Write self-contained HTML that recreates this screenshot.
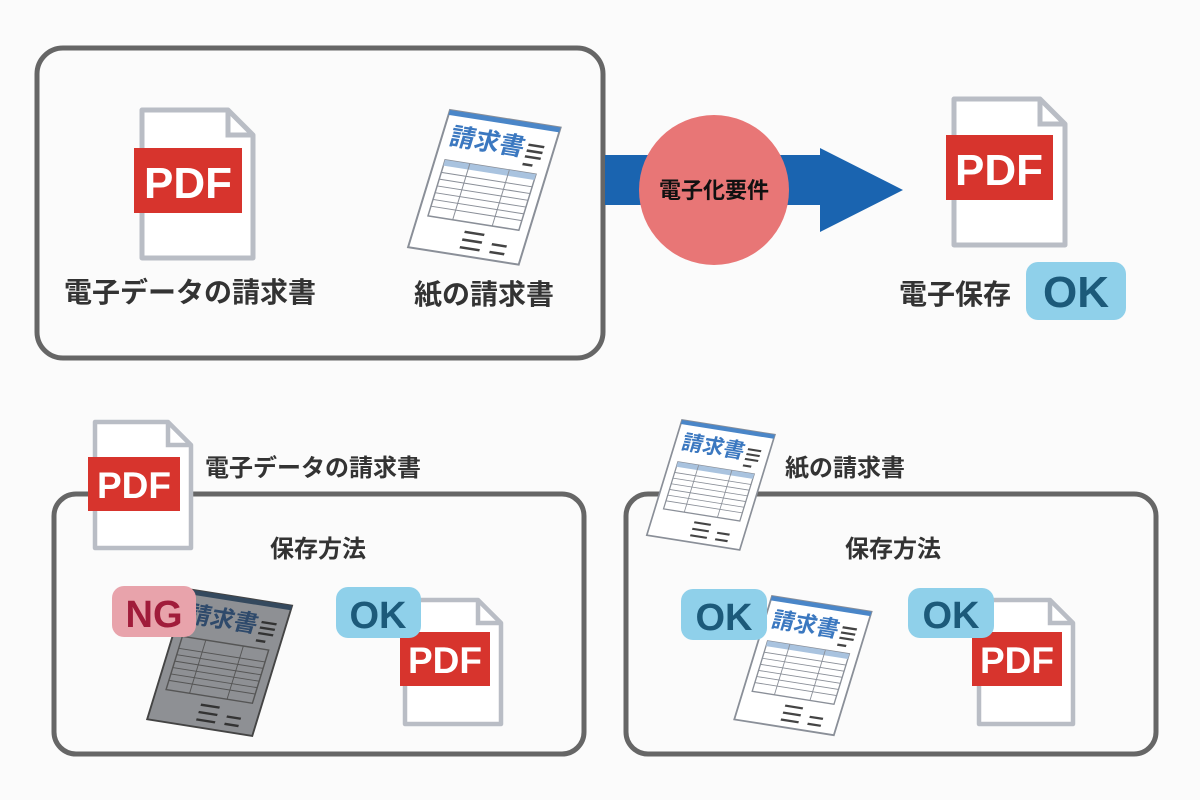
<!DOCTYPE html>
<html><head><meta charset="utf-8"><style>
html,body{margin:0;padding:0;background:#fbfbfb;}
svg{display:block;font-family:"Liberation Sans","Noto Sans CJK JP",sans-serif;}
</style></head><body>
<svg width="1200" height="800" viewBox="0 0 1200 800">
<rect width="1200" height="800" fill="#fbfbfb"/>
<rect x="37" y="48" width="566" height="310" rx="26" fill="none" stroke="#666" stroke-width="5"/>
<rect x="54" y="494" width="530" height="260" rx="22" fill="none" stroke="#666" stroke-width="5"/>
<rect x="626" y="494" width="530" height="260" rx="22" fill="none" stroke="#666" stroke-width="5"/>

<g>
<path d="M142 110 H228 L253 135 V258 H142 Z" fill="#fff" stroke="#b9bdc5" stroke-width="5" stroke-linejoin="round"/>
<path d="M228 110 V135 H253" fill="none" stroke="#b9bdc5" stroke-width="5"/>
<rect x="134" y="148" width="108" height="65" fill="#d7342d"/>
<text x="188" y="198" font-size="44" font-weight="bold" fill="#fff" text-anchor="middle">PDF</text>
</g>
<text x="190" y="302" font-size="28" font-weight="bold" fill="#333" text-anchor="middle">電子データの請求書</text>

<g transform="translate(450,110) rotate(9) skewX(-8)">
<rect x="0" y="0" width="112" height="142" fill="#fff" stroke="#8a8f98" stroke-width="2"/>
<rect x="0" y="0" width="112" height="5" fill="#4a86c8"/>
<text x="8" y="34" font-size="25" font-weight="bold" fill="#3b78c0">請求書</text>
<g stroke="#444" stroke-width="2.5"><line x1="86" y1="22" x2="102" y2="22"/><line x1="86" y1="28" x2="102" y2="28"/><line x1="86" y1="34" x2="102" y2="34"/><line x1="86" y1="42" x2="96" y2="42"/></g>
<rect x="10" y="50" width="92" height="58" fill="#fff" stroke="#8a8f98" stroke-width="1.5"/>
<rect x="10" y="50" width="92" height="6" fill="#a9c3df"/>
<g stroke="#8a8f98" stroke-width="1"><line x1="10" y1="63" x2="102" y2="63"/><line x1="10" y1="70" x2="102" y2="70"/><line x1="10" y1="77" x2="102" y2="77"/><line x1="10" y1="84" x2="102" y2="84"/><line x1="10" y1="91" x2="102" y2="91"/><line x1="10" y1="98" x2="102" y2="98"/><line x1="35" y1="50" x2="35" y2="108"/><line x1="75" y1="50" x2="75" y2="108"/></g>
<g stroke="#444" stroke-width="2.5"><line x1="50" y1="118" x2="70" y2="118"/><line x1="50" y1="126" x2="70" y2="126"/><line x1="80" y1="126" x2="95" y2="126"/><line x1="50" y1="134" x2="70" y2="134"/><line x1="80" y1="134" x2="95" y2="134"/></g>
</g>
<text x="484" y="304" font-size="28" font-weight="bold" fill="#333" text-anchor="middle">紙の請求書</text>

<path d="M605 155 H820 V148 L903 190 L820 232 V205 H605 Z" fill="#1a64b0"/>
<circle cx="714" cy="190" r="75" fill="#e87676"/>
<text x="714" y="198" font-size="22" font-weight="bold" fill="#111" text-anchor="middle">電子化要件</text>

<g>
<path d="M954 99 H1040 L1065 124 V245 H954 Z" fill="#fff" stroke="#b9bdc5" stroke-width="5" stroke-linejoin="round"/>
<path d="M1040 99 V124 H1065" fill="none" stroke="#b9bdc5" stroke-width="5"/>
<rect x="946" y="135" width="107" height="65" fill="#d7342d"/>
<text x="999" y="185" font-size="44" font-weight="bold" fill="#fff" text-anchor="middle">PDF</text>
</g>
<text x="955" y="304" font-size="28" font-weight="bold" fill="#333" text-anchor="middle">電子保存</text>
<rect x="1026" y="262" width="100" height="58" rx="12" fill="#8fd0ea"/>
<text x="1076" y="307" font-size="44" font-weight="bold" fill="#1c5a7a" text-anchor="middle">OK</text>

<g>
<path d="M95 422 H168 L191 445 V548 H95 Z" fill="#fff" stroke="#b9bdc5" stroke-width="4.5" stroke-linejoin="round"/>
<path d="M168 422 V445 H191" fill="none" stroke="#b9bdc5" stroke-width="4.5"/>
<rect x="88" y="457" width="92" height="54" fill="#d7342d"/>
<text x="134" y="498" font-size="37" font-weight="bold" fill="#fff" text-anchor="middle">PDF</text>
</g>
<text x="205" y="476" font-size="24" font-weight="bold" fill="#333">電子データの請求書</text>
<text x="318" y="557" font-size="24" font-weight="bold" fill="#333" text-anchor="middle">保存方法</text>

<g transform="translate(187,589) scale(0.95) rotate(9) skewX(-8)">
<rect x="0" y="0" width="112" height="142" fill="#8e9094" stroke="#444" stroke-width="2"/>
<rect x="0" y="0" width="112" height="5" fill="#34495e"/>
<text x="8" y="34" font-size="25" font-weight="bold" fill="#2f4a6b">請求書</text>
<g stroke="#333" stroke-width="2.5"><line x1="86" y1="22" x2="102" y2="22"/><line x1="86" y1="28" x2="102" y2="28"/><line x1="86" y1="34" x2="102" y2="34"/><line x1="86" y1="42" x2="96" y2="42"/></g>
<rect x="10" y="50" width="92" height="58" fill="#8e9094" stroke="#555" stroke-width="1.5"/>
<g stroke="#555" stroke-width="1"><line x1="10" y1="63" x2="102" y2="63"/><line x1="10" y1="70" x2="102" y2="70"/><line x1="10" y1="77" x2="102" y2="77"/><line x1="10" y1="84" x2="102" y2="84"/><line x1="10" y1="91" x2="102" y2="91"/><line x1="10" y1="98" x2="102" y2="98"/><line x1="35" y1="50" x2="35" y2="108"/><line x1="75" y1="50" x2="75" y2="108"/></g>
<g stroke="#333" stroke-width="2.5"><line x1="50" y1="118" x2="70" y2="118"/><line x1="50" y1="126" x2="70" y2="126"/><line x1="80" y1="126" x2="95" y2="126"/><line x1="50" y1="134" x2="70" y2="134"/><line x1="80" y1="134" x2="95" y2="134"/></g>
</g>
<rect x="112" y="586" width="84" height="51" rx="12" fill="#e8a3ab"/>
<text x="154" y="627" font-size="38" font-weight="bold" fill="#a01c3a" text-anchor="middle">NG</text>

<g>
<path d="M405 600 H478 L501 623 V724 H405 Z" fill="#fff" stroke="#b9bdc5" stroke-width="4.5" stroke-linejoin="round"/>
<path d="M478 600 V623 H501" fill="none" stroke="#b9bdc5" stroke-width="4.5"/>
<rect x="400" y="632" width="90" height="54" fill="#d7342d"/>
<text x="445" y="673" font-size="37" font-weight="bold" fill="#fff" text-anchor="middle">PDF</text>
</g>
<rect x="336" y="587" width="85" height="51" rx="12" fill="#8fd0ea"/>
<text x="378" y="628" font-size="38" font-weight="bold" fill="#1c5a7a" text-anchor="middle">OK</text>

<g transform="translate(682,420) scale(0.84) rotate(9) skewX(-8)">
<rect x="0" y="0" width="112" height="142" fill="#fff" stroke="#8a8f98" stroke-width="2"/>
<rect x="0" y="0" width="112" height="5" fill="#4a86c8"/>
<text x="8" y="34" font-size="25" font-weight="bold" fill="#3b78c0">請求書</text>
<g stroke="#444" stroke-width="2.5"><line x1="86" y1="22" x2="102" y2="22"/><line x1="86" y1="28" x2="102" y2="28"/><line x1="86" y1="34" x2="102" y2="34"/><line x1="86" y1="42" x2="96" y2="42"/></g>
<rect x="10" y="50" width="92" height="58" fill="#fff" stroke="#8a8f98" stroke-width="1.5"/>
<rect x="10" y="50" width="92" height="6" fill="#a9c3df"/>
<g stroke="#8a8f98" stroke-width="1"><line x1="10" y1="63" x2="102" y2="63"/><line x1="10" y1="70" x2="102" y2="70"/><line x1="10" y1="77" x2="102" y2="77"/><line x1="10" y1="84" x2="102" y2="84"/><line x1="10" y1="91" x2="102" y2="91"/><line x1="10" y1="98" x2="102" y2="98"/><line x1="35" y1="50" x2="35" y2="108"/><line x1="75" y1="50" x2="75" y2="108"/></g>
<g stroke="#444" stroke-width="2.5"><line x1="50" y1="118" x2="70" y2="118"/><line x1="50" y1="126" x2="70" y2="126"/><line x1="80" y1="126" x2="95" y2="126"/><line x1="50" y1="134" x2="70" y2="134"/><line x1="80" y1="134" x2="95" y2="134"/></g>
</g>
<text x="785" y="476" font-size="24" font-weight="bold" fill="#333">紙の請求書</text>
<text x="893" y="557" font-size="24" font-weight="bold" fill="#333" text-anchor="middle">保存方法</text>

<g transform="translate(772,596) scale(0.9) rotate(9) skewX(-8)">
<rect x="0" y="0" width="112" height="142" fill="#fff" stroke="#8a8f98" stroke-width="2"/>
<rect x="0" y="0" width="112" height="5" fill="#4a86c8"/>
<text x="8" y="34" font-size="25" font-weight="bold" fill="#3b78c0">請求書</text>
<g stroke="#444" stroke-width="2.5"><line x1="86" y1="22" x2="102" y2="22"/><line x1="86" y1="28" x2="102" y2="28"/><line x1="86" y1="34" x2="102" y2="34"/><line x1="86" y1="42" x2="96" y2="42"/></g>
<rect x="10" y="50" width="92" height="58" fill="#fff" stroke="#8a8f98" stroke-width="1.5"/>
<rect x="10" y="50" width="92" height="6" fill="#a9c3df"/>
<g stroke="#8a8f98" stroke-width="1"><line x1="10" y1="63" x2="102" y2="63"/><line x1="10" y1="70" x2="102" y2="70"/><line x1="10" y1="77" x2="102" y2="77"/><line x1="10" y1="84" x2="102" y2="84"/><line x1="10" y1="91" x2="102" y2="91"/><line x1="10" y1="98" x2="102" y2="98"/><line x1="35" y1="50" x2="35" y2="108"/><line x1="75" y1="50" x2="75" y2="108"/></g>
<g stroke="#444" stroke-width="2.5"><line x1="50" y1="118" x2="70" y2="118"/><line x1="50" y1="126" x2="70" y2="126"/><line x1="80" y1="126" x2="95" y2="126"/><line x1="50" y1="134" x2="70" y2="134"/><line x1="80" y1="134" x2="95" y2="134"/></g>
</g>
<rect x="681" y="589" width="86" height="51" rx="12" fill="#8fd0ea"/>
<text x="724" y="630" font-size="38" font-weight="bold" fill="#1c5a7a" text-anchor="middle">OK</text>

<g>
<path d="M979 600 H1050 L1073 623 V724 H979 Z" fill="#fff" stroke="#b9bdc5" stroke-width="4.5" stroke-linejoin="round"/>
<path d="M1050 600 V623 H1073" fill="none" stroke="#b9bdc5" stroke-width="4.5"/>
<rect x="972" y="632" width="90" height="54" fill="#d7342d"/>
<text x="1017" y="673" font-size="37" font-weight="bold" fill="#fff" text-anchor="middle">PDF</text>
</g>
<rect x="908" y="588" width="86" height="50" rx="12" fill="#8fd0ea"/>
<text x="951" y="628" font-size="38" font-weight="bold" fill="#1c5a7a" text-anchor="middle">OK</text>
</svg>
</body></html>
